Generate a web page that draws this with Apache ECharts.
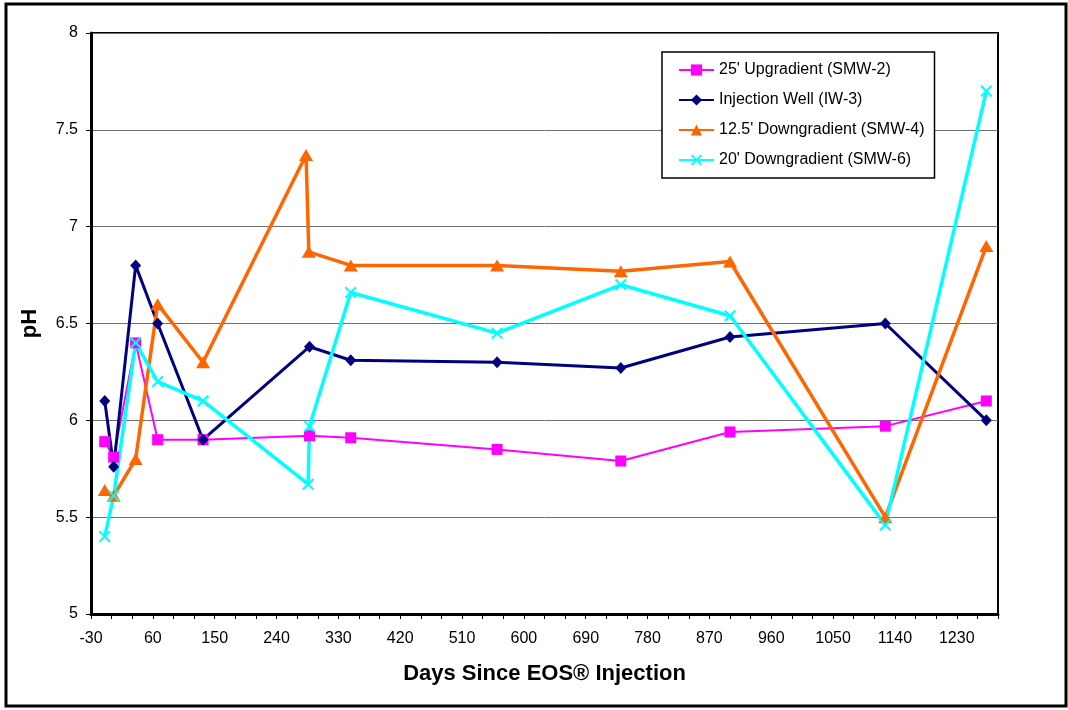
<!DOCTYPE html>
<html>
<head>
<meta charset="utf-8">
<script src="https://cdn.jsdelivr.net/npm/echarts@6/dist/echarts.min.js"></script>
<style>
  html, body { margin: 0; padding: 0; background: #fff; }
  #chart { width: 1068px; height: 710px; }
</style>
</head>
<body>
<div id="chart"></div>
<script>
// pH readings, by days since injection
const seriesNames = [
  "25' Upgradient (SMW-2)",
  'Injection Well (IW-3)',
  "12.5' Downgradient (SMW-4)",
  "20' Downgradient (SMW-6)"
]

const smw2Days = [-10, 3, 35, 67, 133, 288, 348, 561, 741, 900, 1126, 1273]
const smw2PH = [5.89, 5.81, 6.40, 5.90, 5.90, 5.92, 5.91, 5.85, 5.79, 5.94, 5.97, 6.10]

const iw3Days = [-10, 3, 35, 67, 133, 288, 348, 561, 741, 900, 1126, 1273]
const iw3PH = [6.10, 5.76, 6.80, 6.50, 5.90, 6.38, 6.31, 6.30, 6.27, 6.43, 6.50, 6.00]

const smw4Days = [-10, 3, 35, 67, 133, 283, 287, 348, 561, 741, 900, 1126, 1273]
const smw4PH = [5.64, 5.61, 5.80, 6.60, 6.30, 7.37, 6.87, 6.80, 6.80, 6.77, 6.82, 5.50, 6.90]

const smw6Days = [-10, 3, 35, 67, 133, 286, 288, 348, 561, 741, 900, 1126, 1273]
const smw6PH = [5.40, 5.61, 6.40, 6.20, 6.10, 5.67, 5.97, 6.66, 6.45, 6.70, 6.54, 5.46, 7.70]

const xMin = -30
const xMax = 1290
const xStep = 90
const yMin = 5
const yMax = 8
const yStep = 0.5

const font = 'Liberation Sans, Arial, sans-serif'
const xMark = 'path://M0,1.2L1.2,0L5,3.8L8.8,0L10,1.2L6.2,5L10,8.8L8.8,10L5,6.2L1.2,10L0,8.8L3.8,5Z'

const pairs = (days, vals) => days.map((d, i) => [d, vals[i]])

const chart = echarts.init(document.getElementById('chart'))

const option = {
  animation: false,
  backgroundColor: '#fff',
  textStyle: { fontFamily: font },
  grid: {
    left: 91,
    right: 70,
    top: 33,
    bottom: 96,
    show: true,
    borderColor: '#000',
    borderWidth: 2
  },
  graphic: [{
    type: 'rect',
    shape: { x: 6, y: 4, width: 1060, height: 702 },
    style: { fill: 'none', stroke: '#000', lineWidth: 3 },
    silent: true
  }],
  legend: {
    orient: 'vertical',
    left: 662,
    top: 52,
    padding: [10, 10, 10, 16],
    itemGap: 14,
    itemWidth: 35,
    itemHeight: 14,
    itemTextGap: 3,
    backgroundColor: '#fff',
    borderColor: '#000',
    borderWidth: 1.5,
    textStyle: { fontSize: 16, color: '#000', fontFamily: font },
    data: seriesNames
  },
  xAxis: {
    type: 'value',
    min: xMin,
    max: xMax,
    interval: xStep,
    name: 'Days Since EOS® Injection',
    nameLocation: 'middle',
    nameGap: 49,
    nameTextStyle: { fontSize: 22, fontWeight: 'bold', color: '#000', fontFamily: font },
    axisLine: { show: true, onZero: false, lineStyle: { color: '#000', width: 3 } },
    axisTick: { show: true, length: 5, lineStyle: { color: '#000', width: 1 } },
    minorTick: { show: true, splitNumber: 3, length: 5, lineStyle: { color: '#000', width: 1 } },
    axisLabel: { fontSize: 16, color: '#000', margin: 17, showMaxLabel: false, formatter: v => String(v) },
    splitLine: { show: false }
  },
  yAxis: {
    type: 'value',
    min: yMin,
    max: yMax,
    interval: yStep,
    name: 'pH',
    nameLocation: 'middle',
    nameRotate: 90,
    nameGap: 50,
    nameTextStyle: { fontSize: 22, fontWeight: 'bold', color: '#000', fontFamily: font },
    axisLine: { show: true, onZero: false, lineStyle: { color: '#000', width: 3 } },
    axisTick: { show: true, length: 5, lineStyle: { color: '#000', width: 1 } },
    axisLabel: { fontSize: 16, color: '#000', margin: 13, formatter: v => String(v) },
    splitLine: { show: true, lineStyle: { color: '#707070', width: 1 } }
  },
  series: [
    {
      name: seriesNames[0],
      type: 'line',
      data: pairs(smw2Days, smw2PH),
      symbol: 'rect',
      symbolSize: 11,
      color: '#FF00FF',
      lineStyle: { width: 2, color: '#FF00FF' },
      itemStyle: { color: '#FF00FF' }
    },
    {
      name: seriesNames[1],
      type: 'line',
      data: pairs(iw3Days, iw3PH),
      symbol: 'diamond',
      symbolSize: [11, 12],
      color: '#000080',
      lineStyle: { width: 3, color: '#000080' },
      itemStyle: { color: '#000080' }
    },
    {
      name: seriesNames[2],
      type: 'line',
      data: pairs(smw4Days, smw4PH),
      symbol: 'triangle',
      symbolSize: [14, 12],
      color: '#FF6600',
      lineStyle: { width: 3.5, color: '#FF6600' },
      itemStyle: { color: '#FF6600' }
    },
    {
      name: seriesNames[3],
      type: 'line',
      data: pairs(smw6Days, smw6PH),
      symbol: xMark,
      symbolSize: 12,
      color: '#00FFFF',
      lineStyle: { width: 3.5, color: '#00FFFF' },
      itemStyle: { color: '#00FFFF' }
    }
  ]
}

chart.setOption(option)
</script>
</body>
</html>
